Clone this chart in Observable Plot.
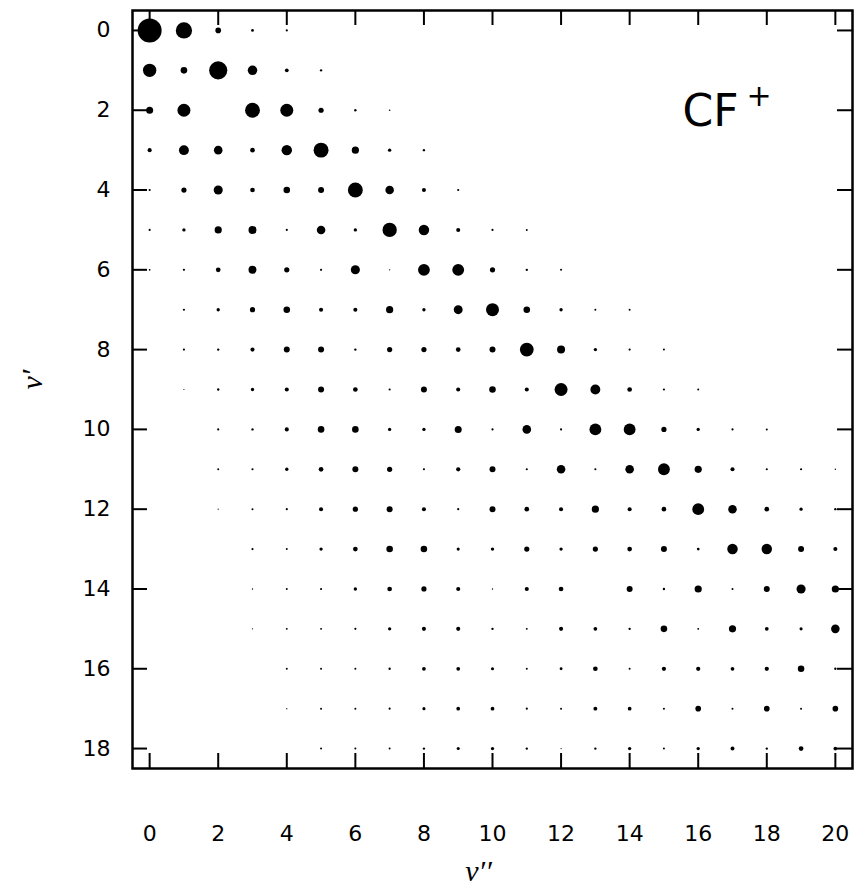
<!DOCTYPE html>
<html><head><meta charset="utf-8">
<script src="https://cdn.jsdelivr.net/npm/d3@7"></script>
<script src="https://cdn.jsdelivr.net/npm/@observablehq/plot@0.6"></script>
<style>body{margin:0;background:#fff}#chart{width:854px;height:888px}</style>
</head><body><div id="chart"></div>
<script>
// Franck–Condon factors for CF+ : rows are v' (upper), columns are v'' (lower); missing = 0
const xTicks = [0, 2, 4, 6, 8, 10, 12, 14, 16, 18, 20];
const yTicks = [0, 2, 4, 6, 8, 10, 12, 14, 16, 18];
const xLabel = "v\u2032\u2032";
const yLabel = "v\u2032";
const fcf = [
  [0.5, 0.222, 0.022, 0.0035, 0.0017],
  [0.147, 0.031, 0.281, 0.070, 0.008, 0.0022],
  [0.036, 0.138, 0, 0.185, 0.138, 0.018, 0.0022, 0.0006],
  [0.010, 0.077, 0.056, 0.014, 0.087, 0.185, 0.038, 0.006, 0.0022],
  [0.0017, 0.018, 0.064, 0.014, 0.031, 0.025, 0.185, 0.056, 0.010, 0.0017],
  [0.0017, 0.006, 0.038, 0.048, 0.0017, 0.056, 0.006, 0.170, 0.087, 0.010, 0.0017, 0.0013],
  [0.0009, 0.0017, 0.014, 0.048, 0.018, 0.0017, 0.064, 0.0003, 0.113, 0.113, 0.018, 0.0022, 0.0013],
  [0, 0.0017, 0.006, 0.018, 0.031, 0.010, 0.010, 0.038, 0.006, 0.061, 0.138, 0.031, 0.006, 0.0013, 0.0013],
  [0, 0.0017, 0.0022, 0.010, 0.025, 0.025, 0.0022, 0.018, 0.018, 0.014, 0.025, 0.156, 0.048, 0.006, 0.0017, 0.0013],
  [0, 0.00014, 0.0022, 0.006, 0.010, 0.025, 0.014, 0.0017, 0.025, 0.010, 0.031, 0.010, 0.138, 0.077, 0.014, 0.0017, 0.0013],
  [0, 0, 0.0017, 0.0022, 0.010, 0.031, 0.031, 0.006, 0.006, 0.036, 0.0017, 0.056, 0.0017, 0.113, 0.113, 0.018, 0.006, 0.0017, 0.0013],
  [0, 0, 0.0013, 0.0017, 0.006, 0.014, 0.025, 0.018, 0.0017, 0.011, 0.025, 0.0017, 0.056, 0.0017, 0.056, 0.113, 0.038, 0.010, 0.0017, 0.0017, 0.0003],
  [0, 0, 0.00014, 0.0013, 0.0017, 0.010, 0.018, 0.025, 0.010, 0.0017, 0.025, 0.014, 0.010, 0.038, 0.010, 0.014, 0.113, 0.056, 0.014, 0.006, 0.0022],
  [0, 0, 0, 0.0017, 0.0013, 0.006, 0.014, 0.031, 0.031, 0.005, 0.006, 0.018, 0.006, 0.018, 0.014, 0.025, 0.0035, 0.087, 0.087, 0.025, 0.010],
  [0, 0, 0, 0.0003, 0.0013, 0.0017, 0.006, 0.014, 0.018, 0.010, 0.0003, 0.010, 0.014, 0, 0.025, 0.0022, 0.038, 0.0013, 0.025, 0.064, 0.038],
  [0, 0, 0, 0.00014, 0.0013, 0.0013, 0.0017, 0.006, 0.010, 0.010, 0.0022, 0.0013, 0.010, 0.008, 0.0022, 0.031, 0.0013, 0.038, 0.008, 0.005, 0.056],
  [0, 0, 0, 0, 0.0013, 0.0013, 0.0013, 0.0022, 0.008, 0.008, 0.005, 0.0013, 0.004, 0.014, 0.0013, 0.011, 0.011, 0.008, 0.011, 0.031, 0.0022],
  [0, 0, 0, 0, 0.00014, 0.0013, 0.0013, 0.0017, 0.005, 0.008, 0.008, 0.0017, 0.0013, 0.009, 0.008, 0.0013, 0.022, 0.0013, 0.022, 0.0013, 0.022],
  [0, 0, 0, 0, 0, 0.0013, 0.0013, 0.0013, 0.0022, 0.005, 0.006, 0.0022, 0.00014, 0.0022, 0.006, 0.0013, 0.006, 0.009, 0.0022, 0.014, 0.008]
];

const cells = [];
fcf.forEach((row, vu) => row.forEach((f, vl) => { if (f > 0) cells.push({vu, vl, f}); }));

const xDomain = [-0.5, 20.5];
const yDomain = [-0.5, 18.5];
const W = 854, H = 888, mL = 132, mR = 2, mT = 10, mB = 120;
const frameW = W - mL - mR, frameH = H - mT - mB;
const T = 15; // inward tick length

const chart = Plot.plot({
  width: W, height: H,
  marginLeft: mL, marginRight: mR, marginTop: mT, marginBottom: mB,
  style: {fontFamily: "DejaVu Sans", fontSize: "22px", color: "black", background: "white"},
  x: {domain: xDomain, axis: null},
  y: {domain: yDomain, reverse: true, axis: null},
  r: {type: "sqrt", domain: [0, 0.5], range: [0.4, 12]},
  marks: [
    Plot.dot(cells, {x: "vl", y: "vu", r: "f", fill: "black", stroke: "none"}),
    // inward ticks on all four sides
    Plot.ruleX(xTicks, {x: d => d, insetTop: frameH - T, stroke: "black", strokeWidth: 2}),
    Plot.ruleX(xTicks, {x: d => d, insetBottom: frameH - T, stroke: "black", strokeWidth: 2}),
    Plot.ruleY(yTicks, {y: d => d, insetRight: frameW - T, stroke: "black", strokeWidth: 2}),
    Plot.ruleY(yTicks, {y: d => d, insetLeft: frameW - T, stroke: "black", strokeWidth: 2}),
    // tick labels
    Plot.text(xTicks, {x: d => d, text: d => String(d), frameAnchor: "bottom", dy: 65, fontSize: 22, lineAnchor: "middle"}),
    Plot.text(yTicks, {y: d => d, text: d => String(d), frameAnchor: "left", dx: -22, textAnchor: "end", fontSize: 22, lineAnchor: "middle"}),
    Plot.frame({stroke: "black", strokeWidth: 2.5}),
    Plot.text([xLabel], {frameAnchor: "bottom", dx: -14, dy: 112, fontFamily: "Liberation Serif", fontStyle: "italic", fontSize: 30}),
    Plot.text([yLabel], {frameAnchor: "left", dx: -100, rotate: -90, fontFamily: "Liberation Serif", fontStyle: "italic", fontSize: 30}),
    Plot.text(["CF"], {frameAnchor: "top-left", dx: 550, dy: 115, textAnchor: "start", lineAnchor: "bottom", fontSize: 44}),
    Plot.text(["+"], {frameAnchor: "top-left", dx: 614, dy: 95, textAnchor: "start", lineAnchor: "bottom", fontSize: 30})
  ]
});
document.getElementById("chart").appendChild(chart);
</script>
</body></html>
